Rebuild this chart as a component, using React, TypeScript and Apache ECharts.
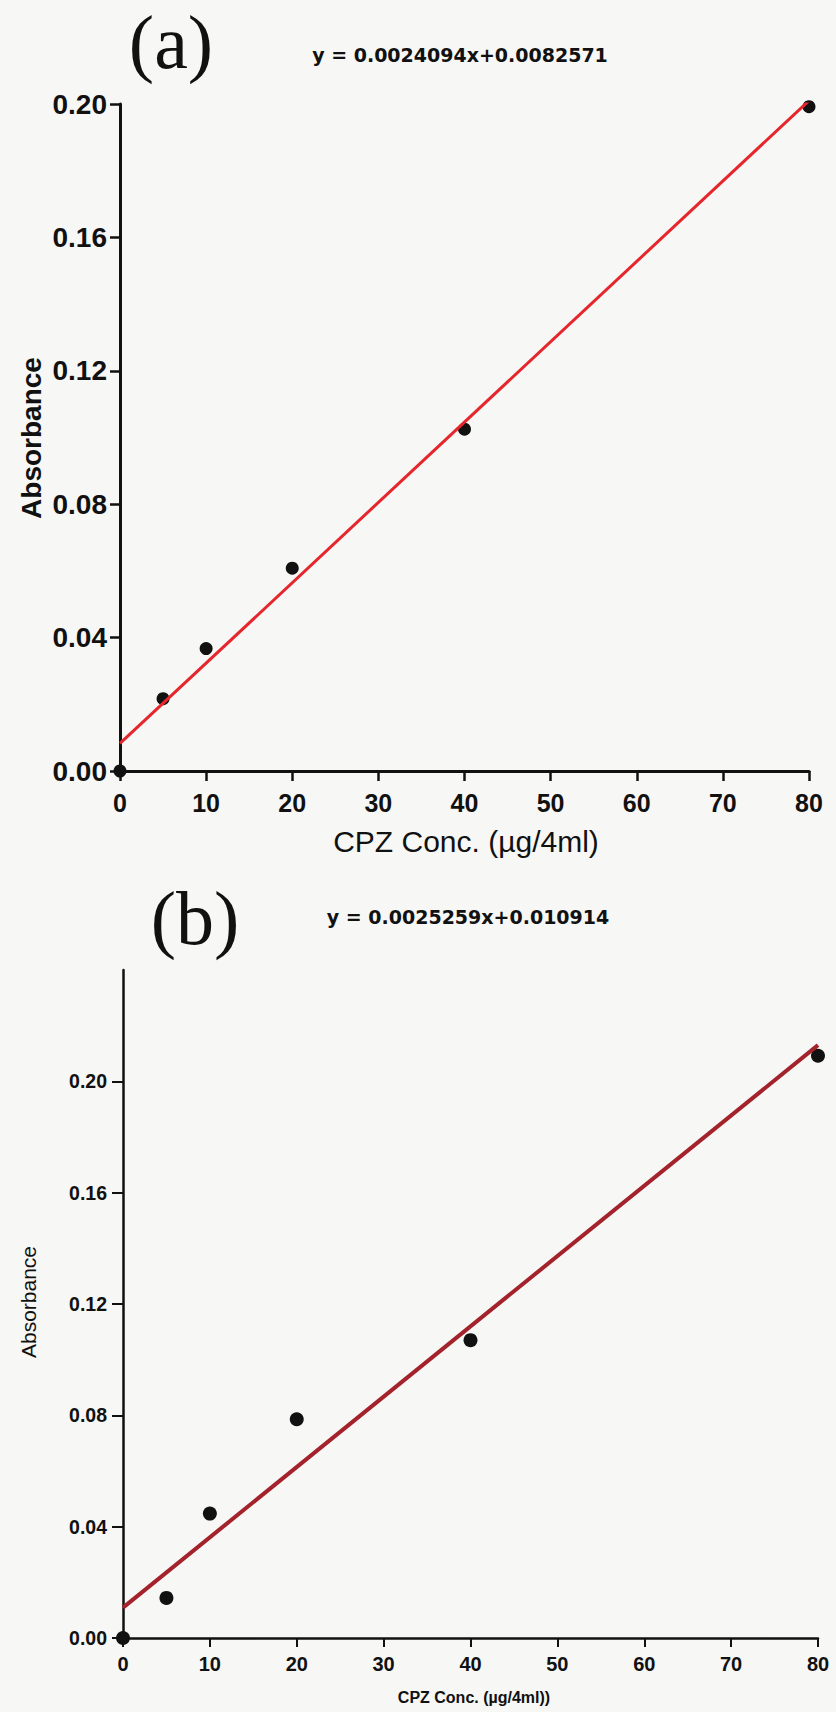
import React, { useEffect, useRef } from "react";
import * as echarts from "echarts";

// ---- Data ----
const concentrations = [0, 5, 10, 20, 40, 80];
const absorbanceA = [0, 0.0217, 0.0367, 0.0608, 0.1025, 0.1992];
const absorbanceB = [0, 0.0144, 0.0447, 0.0786, 0.107, 0.2092];
const fitX = [0, 80];
const fitA = [0.0082571, 0.201];
const fitB = [0.010914, 0.213];
const yTickValues = [0, 0.04, 0.08, 0.12, 0.16, 0.2];
const equationA = "y = 0.0024094x+0.0082571";
const equationB = "y = 0.0025259x+0.010914";
const xTitleA = "CPZ Conc. (µg/4ml)";
const xTitleB = "CPZ Conc. (µg/4ml))";
const yTitle = "Absorbance";

const pairs = (xs: number[], ys: number[]) => xs.map((x, i) => [x, ys[i]]);

export default function App() {
  const ref = useRef<HTMLDivElement>(null);
  useEffect(() => {
    if (!ref.current) return;
    const chart = echarts.init(ref.current, null, { renderer: "svg" });
    const axisCommon = (w: number, tl: number) => ({
      axisLine: { show: true, lineStyle: { color: "#111", width: w } },
      axisTick: { show: true, length: tl, lineStyle: { color: "#111", width: w - 0.5 } },
      splitLine: { show: false },
    });
    chart.setOption({
      animation: false,
      backgroundColor: "#f7f7f5",
      grid: [
        { left: 120, right: 27, top: 104, height: 667 },
        { left: 123, right: 18, top: 970, height: 668 },
      ],
      xAxis: [
        {
          gridIndex: 0, type: "value", min: 0, max: 80, interval: 10,
          ...axisCommon(3, 10),
          axisLabel: { margin: 19, color: "#111", fontFamily: "Liberation Sans", fontWeight: "bold", fontSize: 25 },
        },
        {
          gridIndex: 1, type: "value", min: 0, max: 80, interval: 10,
          ...axisCommon(2.5, 9),
          axisLabel: { margin: 16, color: "#111", fontFamily: "Liberation Sans", fontWeight: "bold", fontSize: 20 },
        },
      ],
      yAxis: [
        {
          gridIndex: 0, type: "value", min: 0, max: 0.2, interval: 0.04,
          ...axisCommon(3, 10),
          axisLabel: {
            margin: 13, color: "#111", fontFamily: "Liberation Sans", fontWeight: "bold", fontSize: 28,
            formatter: (v: number) => v.toFixed(2),
          },
        },
        {
          gridIndex: 1, type: "value", min: 0, max: 0.24, interval: 0.04,
          axisLine: { show: true, lineStyle: { color: "#111", width: 2.5 } },
          axisTick: { show: true, length: 11, lineStyle: { color: "#111", width: 2 }, customValues: yTickValues },
          splitLine: { show: false },
          axisLabel: {
            margin: 16, color: "#111", fontFamily: "Liberation Sans", fontWeight: "bold", fontSize: 19.5,
            customValues: yTickValues,
            formatter: (v: number) => (v > 0.21 ? "" : v.toFixed(2)),
          },
        },
      ],
      series: [
        {
          type: "scatter", xAxisIndex: 0, yAxisIndex: 0, data: pairs(concentrations, absorbanceA),
          symbol: "circle", symbolSize: 13, itemStyle: { color: "#111", opacity: 1 }, clip: false, z: 3,
        },
        {
          type: "line", xAxisIndex: 0, yAxisIndex: 0, data: pairs(fitX, fitA),
          showSymbol: false, symbol: "none", lineStyle: { color: "#e5262d", width: 3 }, z: 4,
        },
        {
          type: "scatter", xAxisIndex: 1, yAxisIndex: 1, data: pairs(concentrations, absorbanceB),
          symbol: "circle", symbolSize: 14, itemStyle: { color: "#111", opacity: 1 }, clip: false, z: 3,
        },
        {
          type: "line", xAxisIndex: 1, yAxisIndex: 1, data: pairs(fitX, fitB),
          showSymbol: false, symbol: "none", lineStyle: { color: "#a3222b", width: 4 }, z: 4,
        },
      ],
      graphic: [
        { type: "text", x: 171, y: 42, style: { text: "(a)", font: "76px 'Liberation Serif'", fill: "#111", align: "center", verticalAlign: "middle" } },
        { type: "text", x: 460, y: 55, style: { text: equationA, font: "bold 19px 'DejaVu Sans'", fill: "#111", align: "center", verticalAlign: "middle" } },
        { type: "text", x: 31, y: 438, rotation: Math.PI / 2, style: { text: yTitle, font: "bold 28px 'Liberation Sans'", fill: "#111", align: "center", verticalAlign: "middle" } },
        { type: "text", x: 466, y: 841, style: { text: xTitleA, font: "30px 'Liberation Sans'", fill: "#111", align: "center", verticalAlign: "middle" } },
        { type: "text", x: 195, y: 918, style: { text: "(b)", font: "76px 'Liberation Serif'", fill: "#111", align: "center", verticalAlign: "middle" } },
        { type: "text", x: 468, y: 917, style: { text: equationB, font: "bold 19px 'DejaVu Sans'", fill: "#111", align: "center", verticalAlign: "middle" } },
        { type: "text", x: 28, y: 1302, rotation: Math.PI / 2, style: { text: yTitle, font: "21px 'Liberation Sans'", fill: "#111", align: "center", verticalAlign: "middle" } },
        { type: "text", x: 474, y: 1697, style: { text: xTitleB, font: "bold 16px 'Liberation Sans'", fill: "#111", align: "center", verticalAlign: "middle" } },
      ],
    });
    return () => chart.dispose();
  }, []);
  return (
    <div
      ref={ref}
      style={{ position: "absolute", left: 0, top: 0, width: 836, height: 1712 }}
    />
  );
}
